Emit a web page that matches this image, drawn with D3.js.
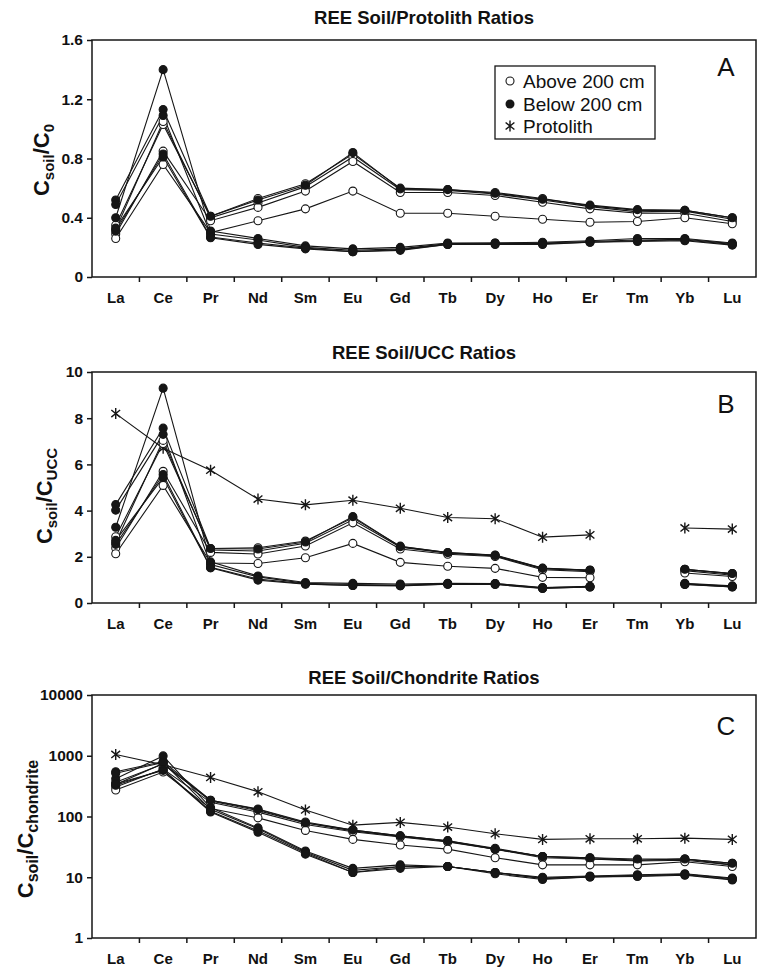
<!DOCTYPE html>
<html><head><meta charset="utf-8">
<script src="https://cdn.jsdelivr.net/npm/d3@7"></script>
<style>
body{margin:0;background:#fff}
svg{display:block}
text{font-family:"Liberation Sans",Arial,Helvetica,sans-serif;fill:#111}
</style>
</head><body>
<svg id="chart" width="757" height="967"></svg>
<script>
// ---------------- DATA ----------------
const categories = ["La","Ce","Pr","Nd","Sm","Eu","Gd","Tb","Dy","Ho","Er","Tm","Yb","Lu"];
const legendLabels = ["Above 200 cm","Below 200 cm","Protolith"];
const panelTitles = ["REE Soil/Protolith Ratios","REE Soil/UCC Ratios","REE Soil/Chondrite Ratios"];
const panelLetters = ["A","B","C"];
const ticksA = [0,0.4,0.8,1.2,1.6];
const ticksB = [0,2,4,6,8,10];
const ticksC = [1,10,100,1000,10000];

// Panel A: soil / protolith
const ratioA_above = [
  [0.35,1.03,0.41,0.53,0.63,0.83,0.60,0.59,0.57,0.53,0.48,0.45,0.45,0.40],
  [0.32,1.05,0.40,0.50,0.61,0.81,0.59,0.585,0.56,0.52,0.475,0.44,0.445,0.39],
  [0.29,0.85,0.38,0.47,0.58,0.78,0.57,0.57,0.55,0.505,0.46,0.43,0.43,0.375],
  [0.26,0.76,0.30,0.38,0.46,0.58,0.43,0.43,0.41,0.39,0.37,0.375,0.40,0.36]
];
const ratioA_below = [
  [0.52,1.13,0.41,0.52,0.62,0.84,0.595,0.59,0.565,0.525,0.485,0.455,0.45,0.40],
  [0.40,1.40,0.31,0.26,0.21,0.19,0.20,0.23,0.23,0.235,0.245,0.26,0.26,0.23],
  [0.49,1.09,0.29,0.25,0.20,0.18,0.19,0.225,0.23,0.23,0.24,0.25,0.255,0.225],
  [0.31,0.83,0.27,0.23,0.195,0.17,0.185,0.22,0.225,0.225,0.235,0.245,0.25,0.22],
  [0.33,0.81,0.265,0.22,0.19,0.17,0.18,0.22,0.22,0.22,0.235,0.24,0.245,0.215]
];

// Panel B: soil / UCC (Tm not reported)
const ratioB_above = [
  [2.87,6.90,2.36,2.39,2.68,3.69,2.46,2.18,2.08,1.51,1.42,null,1.46,1.28],
  [2.62,7.04,2.30,2.25,2.59,3.60,2.42,2.16,2.04,1.48,1.40,null,1.45,1.25],
  [2.38,5.70,2.19,2.12,2.47,3.47,2.34,2.11,2.01,1.44,1.36,null,1.40,1.20],
  [2.13,5.09,1.73,1.71,1.96,2.58,1.76,1.59,1.50,1.11,1.09,null,1.30,1.15]
];
const ratioB_below = [
  [4.26,7.57,2.36,2.34,2.64,3.74,2.44,2.18,2.06,1.50,1.43,null,1.46,1.28],
  [3.28,9.30,1.78,1.17,0.89,0.85,0.82,0.85,0.84,0.67,0.72,null,0.85,0.74],
  [4.02,7.30,1.67,1.13,0.85,0.80,0.78,0.83,0.84,0.66,0.71,null,0.83,0.72],
  [2.54,5.56,1.55,1.04,0.83,0.76,0.76,0.81,0.82,0.64,0.69,null,0.81,0.70],
  [2.71,5.43,1.52,0.99,0.81,0.76,0.74,0.81,0.80,0.63,0.69,null,0.80,0.69]
];
const ratioB_protolith = [8.2,6.7,5.75,4.5,4.25,4.45,4.1,3.7,3.65,2.85,2.95,null,3.25,3.2];

// Panel C: soil / chondrite
const ratioC_above = [
  [367,731,185,133,81,60,48,40,30,22,21,19,20,17],
  [336,746,180,125,78,58,47,39,29,22,20,19,20,16],
  [305,604,171,118,74,56,46,38,29,21,20,18.5,19,16],
  [273,540,135,95,59,42,34,29,21,16,16,16,18,15]
];
const ratioC_below = [
  [546,802,185,130,79,60,48,40,29,22,21,20,20,17],
  [420,994,140,65,27,14,16,15,12,10,10.5,11,11.4,9.7],
  [515,774,131,63,26,13,15,15,12,9.7,10.3,10.8,11.2,9.5],
  [326,589,122,58,25,12,15,15,12,9.5,10.1,10.5,11,9.2],
  [347,575,119,55,24,12,14,15,11.4,9.2,10.1,10.3,10.8,9.0]
];
const ratioC_protolith = [1050,710,440,255,128,72,80,67,52,42,43,43,44,42];

// ---------------- LAYOUT ----------------
const svg = d3.select("#chart");
const left = 92, right = 756;
const ink = "#161616";
const x = d3.scaleBand().domain(categories).range([left, right]);
const cx = c => x(c) + x.bandwidth() / 2;

const panels = [
  {top: 40,  bottom: 277, type: "lin", max: 1.6, ticks: ticksA, fmt: d => d === 0 ? "0" : d3.format(".1f")(d),
   above: ratioA_above, below: ratioA_below, proto: null, titleY: 24, letterY: 76,
   labelY: 160, labelX: 49, sub1: "soil", sub2: "0", subSize: 15},
  {top: 372, bottom: 603, type: "lin", max: 10, ticks: ticksB, fmt: d3.format("d"),
   above: ratioB_above, below: ratioB_below, proto: ratioB_protolith, titleY: 359, letterY: 413,
   labelY: 496, labelX: 52, sub1: "soil", sub2: "UCC", subSize: 15},
  {top: 695, bottom: 938, type: "log", ticks: ticksC, fmt: d3.format("d"),
   above: ratioC_above, below: ratioC_below, proto: ratioC_protolith, titleY: 684, letterY: 735,
   labelY: 829, labelX: 33, sub1: "soil", sub2: "chondrite", subSize: 16}
];

function starPath(r) {
  const p = d3.path();
  p.moveTo(0, -r); p.lineTo(0, r);
  p.moveTo(-r * 0.8, -r * 0.65); p.lineTo(r * 0.8, r * 0.65);
  p.moveTo(-r * 0.8, r * 0.65); p.lineTo(r * 0.8, -r * 0.65);
  return p.toString();
}

panels.forEach((p, pi) => {
  const y = p.type === "log"
    ? d3.scaleLog().domain([1, 10000]).range([p.bottom, p.top])
    : d3.scaleLinear().domain([0, p.max]).range([p.bottom, p.top]);
  const g = svg.append("g");

  // title
  g.append("text").attr("x", (left + right) / 2).attr("y", p.titleY)
    .attr("text-anchor", "middle").attr("font-size", 18.5).attr("font-weight", "bold")
    .text(panelTitles[pi]);

  // frame
  g.append("rect").attr("x", left).attr("y", p.top)
    .attr("width", right - left).attr("height", p.bottom - p.top)
    .attr("fill", "none").attr("stroke", ink).attr("stroke-width", 1.5);

  // y axis
  const ya = g.append("g").attr("transform", `translate(${left},0)`)
    .call(d3.axisLeft(y).tickValues(p.ticks).tickFormat(p.fmt).tickSize(5).tickPadding(4));
  ya.select(".domain").remove();
  ya.selectAll("line").attr("stroke", ink).attr("stroke-width", 1.5);
  ya.selectAll("text").attr("font-size", 15.5).attr("font-weight", "bold")
    .attr("font-family", '"Liberation Sans",Arial,sans-serif').attr("fill", "#111");

  // x axis labels
  const xa = g.append("g").attr("transform", `translate(0,${p.bottom})`)
    .call(d3.axisBottom(x).tickSize(0).tickPadding(15));
  xa.select(".domain").remove();
  xa.selectAll("text").attr("font-size", 15).attr("font-weight", "bold")
    .attr("font-family", '"Liberation Sans",Arial,sans-serif').attr("fill", "#111");
  // x boundary ticks
  const bounds = categories.slice(1).map(c => x(c));
  g.selectAll(".xt").data(bounds).enter().append("line")
    .attr("x1", d => d).attr("x2", d => d)
    .attr("y1", p.bottom).attr("y2", p.bottom + 5)
    .attr("stroke", ink).attr("stroke-width", 1.5);

  // y axis title
  const t = g.append("text")
    .attr("transform", `translate(${p.labelX},${p.labelY}) rotate(-90)`)
    .attr("text-anchor", "middle").attr("font-weight", "bold").attr("font-size", 22);
  t.append("tspan").text("C");
  t.append("tspan").attr("font-size", p.subSize).attr("dy", 5).text(p.sub1);
  t.append("tspan").attr("dy", -5).text("/C");
  t.append("tspan").attr("font-size", p.subSize).attr("dy", 5).text(p.sub2);

  // panel letter
  g.append("text").attr("x", 726).attr("y", p.letterY).attr("text-anchor", "middle")
    .attr("font-size", 26).text(panelLetters[pi]);

  const line = d3.line()
    .defined(d => d != null)
    .x((d, i) => cx(categories[i]))
    .y(d => y(d));

  const series = [];
  if (p.proto) series.push({vals: p.proto, kind: "star"});
  p.above.forEach(v => series.push({vals: v, kind: "open"}));
  p.below.forEach(v => series.push({vals: v, kind: "filled"}));

  // lines
  g.selectAll(".ln").data(series).enter().append("path")
    .attr("d", s => line(s.vals))
    .attr("fill", "none").attr("stroke", ink).attr("stroke-width", 1.1);

  // markers
  series.forEach(s => {
    const pts = s.vals.map((v, i) => ({c: categories[i], v})).filter(d => d.v != null);
    if (s.kind === "star") {
      g.selectAll(null).data(pts).enter().append("path")
        .attr("transform", d => `translate(${cx(d.c)},${y(d.v)})`)
        .attr("d", starPath(5.5))
        .attr("fill", "none").attr("stroke", ink).attr("stroke-width", 1.4);
    } else {
      g.selectAll(null).data(pts).enter().append("circle")
        .attr("cx", d => cx(d.c)).attr("cy", d => y(d.v)).attr("r", 4)
        .attr("fill", s.kind === "open" ? "#fff" : ink)
        .attr("stroke", ink).attr("stroke-width", 1.1);
    }
  });
});

// legend (panel A)
const lg = svg.append("g");
lg.append("rect").attr("x", 495).attr("y", 66).attr("width", 160).attr("height", 73)
  .attr("fill", "#fff").attr("stroke", ink).attr("stroke-width", 1.3);
const legRows = [81, 104, 126];
lg.append("circle").attr("cx", 510).attr("cy", legRows[0]).attr("r", 4)
  .attr("fill", "#fff").attr("stroke", ink).attr("stroke-width", 1.1);
lg.append("circle").attr("cx", 510).attr("cy", legRows[1]).attr("r", 4.5).attr("fill", ink);
lg.append("path").attr("transform", `translate(510,${legRows[2]})`).attr("d", starPath(5.5))
  .attr("fill", "none").attr("stroke", ink).attr("stroke-width", 1.4);
legendLabels.forEach((l, i) => {
  lg.append("text").attr("x", 523).attr("y", legRows[i]).attr("dy", "0.36em")
    .attr("font-size", 19).text(l);
});
</script>
</body></html>
